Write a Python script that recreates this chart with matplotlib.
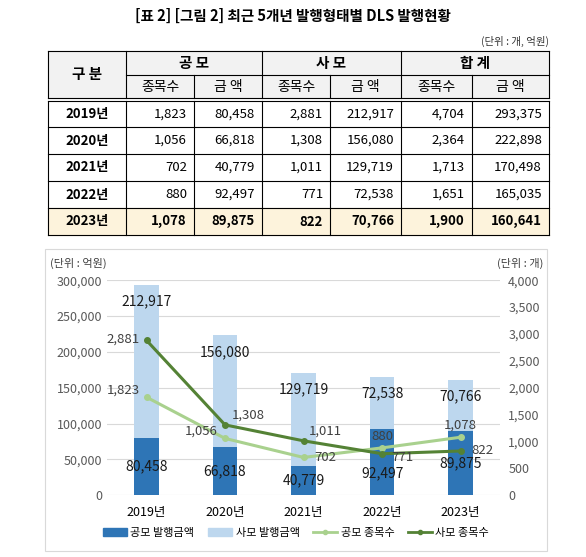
import matplotlib.pyplot as plt
import numpy as np
from matplotlib.patches import Rectangle
from matplotlib.lines import Line2D

plt.rcParams['font.family'] = ['Noto Sans CJK KR', 'DejaVu Sans']

years = ['2019년', '2020년', '2021년', '2022년', '2023년']
public_cnt = [1823, 1056, 702, 880, 1078]
public_amt = [80458, 66818, 40779, 92497, 89875]
private_cnt = [2881, 1308, 1011, 771, 822]
private_amt = [212917, 156080, 129719, 72538, 70766]
total_cnt = [4704, 2364, 1713, 1651, 1900]
total_amt = [293375, 222898, 170498, 165035, 160641]

C_DARK = '#2E75B6'
C_LIGHT = '#BDD7EE'
G_LIGHT = '#A9D18E'
G_DARK = '#548235'

fig = plt.figure(figsize=(5.86, 5.57), dpi=100)

# ---- table drawn in pixel coordinates ----
ov = fig.add_axes([0, 0, 1, 1])
ov.set_xlim(0, 586)
ov.set_ylim(557, 0)
ov.axis('off')

ov.text(293, 16, '[표 2] [그림 2] 최근 5개년 발행형태별 DLS 발행현황', ha='center', va='center',
        fontsize=10.5, fontweight='bold')
ov.text(549, 41, '(단위 : 개, 억원)', ha='right', va='center', fontsize=7.5, color='#333333')

xs = [48, 126, 194, 262, 330, 401, 472, 549]
ys = [51, 75, 98, 127, 154, 181, 208, 235]
ov.add_patch(Rectangle((xs[0], ys[0]), xs[-1] - xs[0], ys[2] - ys[0], color='#F2F2F2', zorder=0))
ov.add_patch(Rectangle((xs[0], ys[6]), xs[-1] - xs[0], ys[7] - ys[6], color='#FDF3DC', zorder=0))
lw = 0.8
for y in [ys[0], ys[2] + 3] + ys[3:]:
    ov.plot([xs[0], xs[-1]], [y, y], color='black', lw=lw)
ov.plot([xs[0], xs[-1]], [ys[2], ys[2]], color='black', lw=lw)
ov.plot([xs[1], xs[-1]], [ys[1], ys[1]], color='black', lw=lw)
for i, x in enumerate(xs):
    if i in (2, 4, 6):
        ov.plot([x, x], [ys[1], ys[2]], color='black', lw=lw)
    else:
        ov.plot([x, x], [ys[0], ys[2]], color='black', lw=lw)
    ov.plot([x, x], [ys[2] + 3, ys[-1]], color='black', lw=lw)

hf = dict(ha='center', va='center', fontsize=10.5, fontweight='bold')
ov.text((xs[0] + xs[1]) / 2, (ys[0] + ys[2]) / 2, '구 분', **hf)
for k, name in enumerate(['공 모', '사 모', '합 계']):
    ov.text((xs[1 + 2 * k] + xs[3 + 2 * k]) / 2, (ys[0] + ys[1]) / 2, name, **hf)
    ov.text((xs[1 + 2 * k] + xs[2 + 2 * k]) / 2, (ys[1] + ys[2]) / 2, '종목수', ha='center', va='center', fontsize=10)
    ov.text((xs[2 + 2 * k] + xs[3 + 2 * k]) / 2, (ys[1] + ys[2]) / 2, '금 액', ha='center', va='center', fontsize=10)

for r, yr in enumerate(years):
    yc = (max(ys[2 + r], ys[2] + 3) + ys[3 + r]) / 2
    bold = 'bold' if r == 4 else 'normal'
    ov.text((xs[0] + xs[1]) / 2, yc, yr, ha='center', va='center', fontsize=9.5, fontweight='bold')
    vals = [public_cnt[r], public_amt[r], private_cnt[r], private_amt[r], total_cnt[r], total_amt[r]]
    for c, v in enumerate(vals):
        ov.text(xs[c + 2] - 7, yc, f'{v:,}', ha='right', va='center', fontsize=9.5, fontweight=bold)

# ---- chart ----
ov.add_patch(Rectangle((45, 249), 502, 302, fill=False, edgecolor='#D9D9D9', lw=0.8))

ax = fig.add_axes([0.183, 0.111, 0.670, 0.386])
x = np.arange(len(years))
ax.bar(x, public_amt, width=0.31, color=C_DARK, zorder=2)
ax.bar(x, private_amt, width=0.31, bottom=public_amt, color=C_LIGHT, zorder=2)
ax.set_xlim(-0.5, 4.5)
ax.set_ylim(0, 300000)
ax.set_yticks(np.arange(0, 300001, 50000))
ax.set_yticklabels([f'{v:,}' for v in range(0, 300001, 50000)])
ax.set_xticks(x)
ax.set_xticklabels(years, fontsize=7.5)
ax.grid(axis='y', color='#D9D9D9', lw=0.8, zorder=0)
ax.set_axisbelow(True)
for s in ax.spines.values():
    s.set_visible(False)
ax.tick_params(length=0, labelsize=9, colors='#595959')
ax.tick_params(axis='x', colors='black', pad=8)

low_off = [0, 0, 0, -8, 0]
for i in x:
    ax.annotate(f'{public_amt[i]:,}', (i, public_amt[i] / 2), xytext=(0, low_off[i]), textcoords='offset points',
                ha='center', va='center', fontsize=10, color='#1a1a1a', zorder=5)
    ax.text(i, total_amt[i] - 23000, f'{private_amt[i]:,}', ha='center', va='center',
            fontsize=10, color='#1a1a1a', zorder=5)

ax2 = ax.twinx()
ax2.set_ylim(0, 4000)
ax2.set_yticks(np.arange(0, 4001, 500))
ax2.set_yticklabels([f'{v:,}' for v in range(0, 4001, 500)])
for s in ax2.spines.values():
    s.set_visible(False)
ax2.tick_params(length=0, labelsize=9, colors='#595959', pad=6)
ax2.plot(x, public_cnt, color=G_LIGHT, lw=2.2, marker='o', ms=4, zorder=3)
ax2.plot(x, private_cnt, color=G_DARK, lw=2.2, marker='o', ms=4, zorder=3)

pub_off = [(-5, 5), (-5, 5), (8, 0), (0, 8), (0, 9)]
pub_ha = ['right', 'right', 'left', 'center', 'center']
prv_off = [(-5, 1), (5, 7), (4, 7), (7, -3), (8, 0)]
prv_ha = ['right', 'left', 'left', 'left', 'left']
for i in x:
    ax2.annotate(f'{public_cnt[i]:,}', (i, public_cnt[i]), xytext=pub_off[i], textcoords='offset points',
                 ha=pub_ha[i], va='center', fontsize=9.5, color='#404040')
    ax2.annotate(f'{private_cnt[i]:,}', (i, private_cnt[i]), xytext=prv_off[i], textcoords='offset points',
                 ha=prv_ha[i], va='center', fontsize=9.5, color='#404040')

ov.text(50, 263, '(단위 : 억원)', ha='left', va='center', fontsize=8, color='#404040')
ov.text(543, 263, '(단위 : 개)', ha='right', va='center', fontsize=8, color='#404040')

handles = [Rectangle((0, 0), 1, 1, color=C_DARK), Rectangle((0, 0), 1, 1, color=C_LIGHT),
           Line2D([], [], color=G_LIGHT, lw=2, marker='o', ms=3),
           Line2D([], [], color=G_DARK, lw=2, marker='o', ms=3)]
fig.legend(handles, ['공모 발행금액', '사모 발행금액', '공모 종목수', '사모 종목수'], loc='center',
           bbox_to_anchor=(0.505, 0.043), ncol=4, frameon=False, fontsize=8, handlelength=2.2,
           handleheight=0.7, columnspacing=1.2, handletextpad=0.3)

fig.savefig('out.png', dpi=100)
